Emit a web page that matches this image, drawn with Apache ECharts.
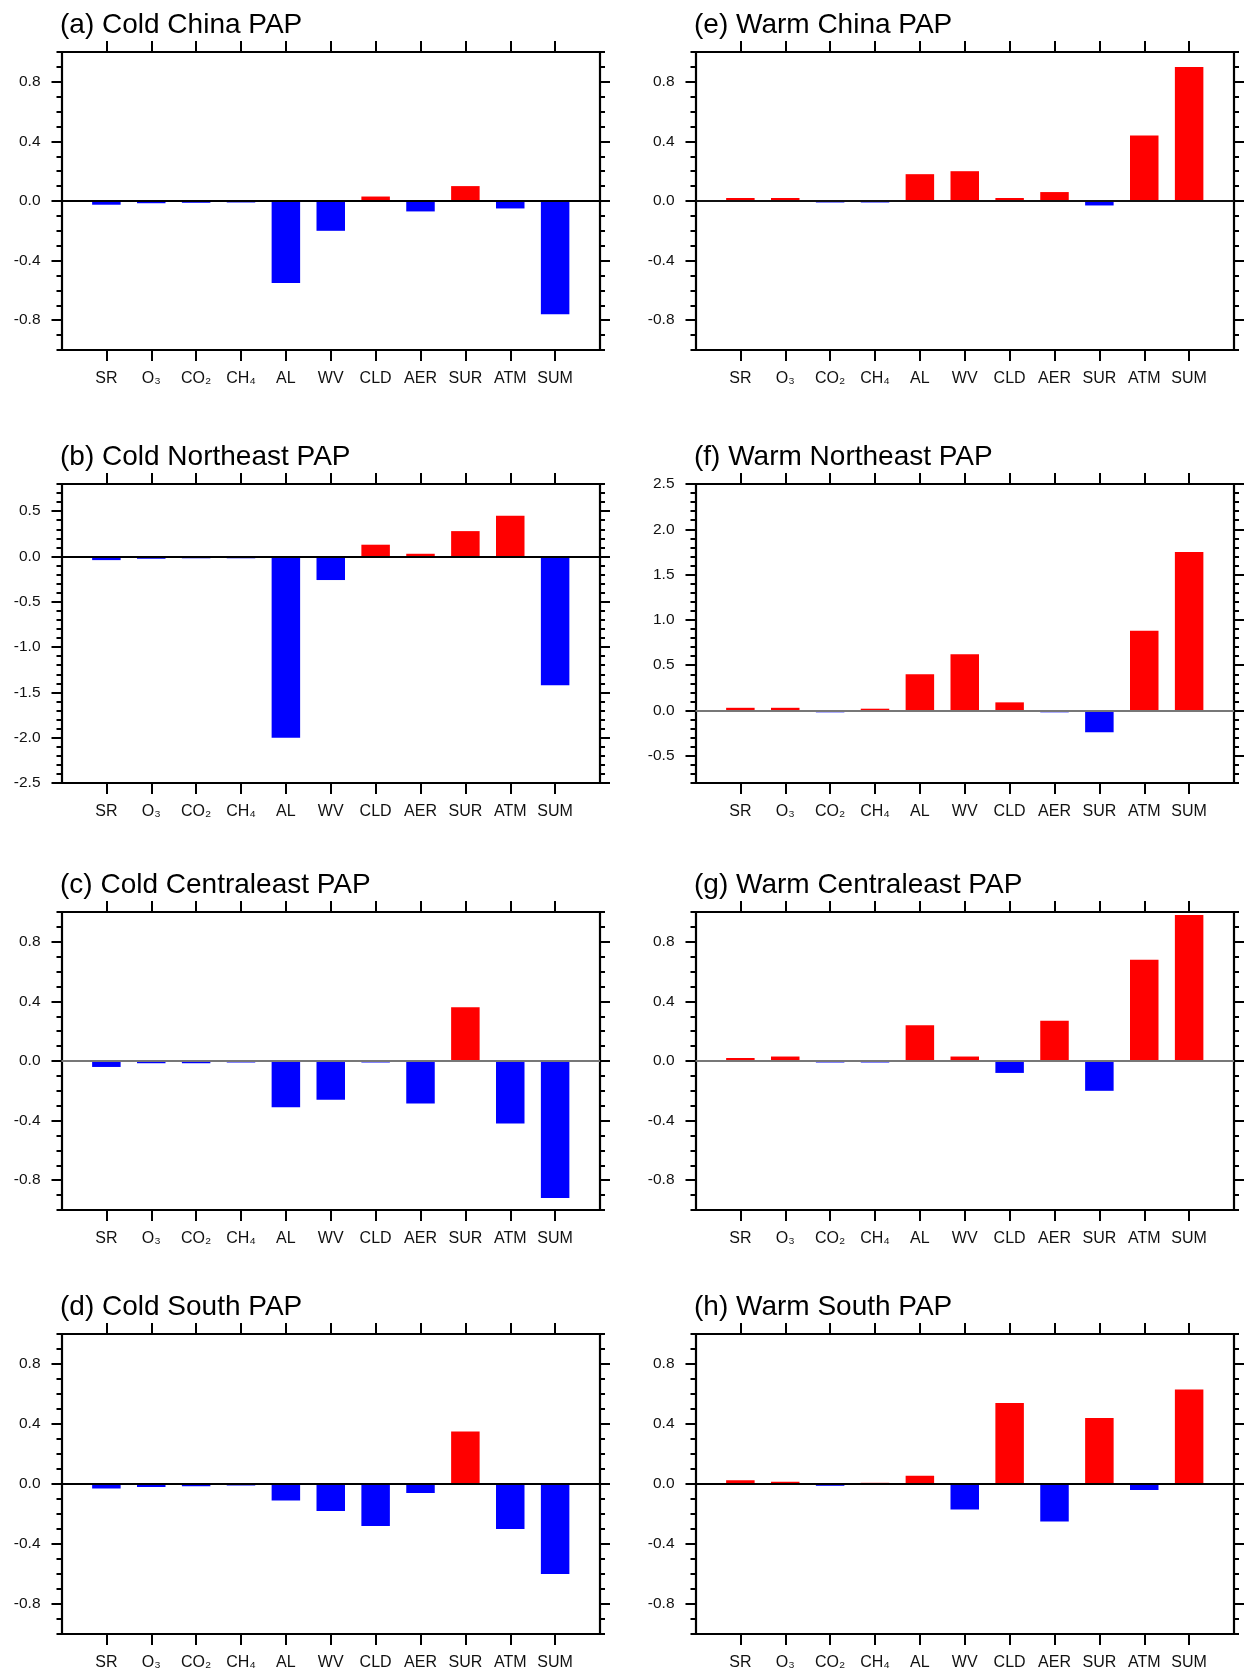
<!DOCTYPE html>
<html><head><meta charset="utf-8">
<script src="https://cdn.jsdelivr.net/npm/echarts@6/dist/echarts.min.js"></script>
<style>html,body{margin:0;padding:0;background:#fff}#c{width:1246px;height:1672px}</style>
</head><body><div id="c"></div>
<script>
// ---- data ----
const categories = ['SR','O₃','CO₂','CH₄','AL','WV','CLD','AER','SUR','ATM','SUM'];
const titles = ['(a) Cold China PAP','(b) Cold Northeast PAP','(c) Cold Centraleast PAP','(d) Cold South PAP',
                '(e) Warm China PAP','(f) Warm Northeast PAP','(g) Warm Centraleast PAP','(h) Warm South PAP'];
const coldChina       = [-0.025,-0.015,-0.012,-0.01,-0.55,-0.2,0.03,-0.07,0.1,-0.05,-0.76];
const coldNortheast   = [-0.04,-0.025,-0.02,-0.02,-2.0,-0.26,0.13,0.03,0.28,0.45,-1.42];
const coldCentraleast = [-0.04,-0.015,-0.015,-0.01,-0.31,-0.26,-0.01,-0.285,0.36,-0.42,-0.92];
const coldSouth       = [-0.03,-0.02,-0.015,-0.01,-0.11,-0.18,-0.28,-0.06,0.35,-0.3,-0.6];
const warmChina       = [0.02,0.02,-0.01,-0.01,0.18,0.2,0.02,0.06,-0.03,0.44,0.9];
const warmNortheast   = [0.03,0.03,-0.02,0.02,0.4,0.62,0.09,-0.02,-0.24,0.88,1.75];
const warmCentraleast = [0.02,0.03,-0.01,-0.01,0.24,0.03,-0.08,0.27,-0.2,0.68,0.98];
const warmSouth       = [0.025,0.015,-0.012,0.008,0.055,-0.17,0.54,-0.25,0.44,-0.04,0.63];
const ticksStd = [-0.8,-0.4,0.0,0.4,0.8];
const ticksColdNE = [-2.5,-2.0,-1.5,-1.0,-0.5,0.0,0.5];
const ticksWarmNE = [-0.5,0.0,0.5,1.0,1.5,2.0,2.5];
const rangeStd = [-1,1];
const rangeColdNE = [-2.5,0.8];
const rangeWarmNE = [-0.8,2.5];

const panels = [
  {title:titles[0], values:coldChina, ticks:ticksStd, range:rangeStd},
  {title:titles[1], values:coldNortheast, ticks:ticksColdNE, range:rangeColdNE},
  {title:titles[2], values:coldCentraleast, ticks:ticksStd, range:rangeStd},
  {title:titles[3], values:coldSouth, ticks:ticksStd, range:rangeStd},
  {title:titles[4], values:warmChina, ticks:ticksStd, range:rangeStd},
  {title:titles[5], values:warmNortheast, ticks:ticksWarmNE, range:rangeWarmNE},
  {title:titles[6], values:warmCentraleast, ticks:ticksStd, range:rangeStd},
  {title:titles[7], values:warmSouth, ticks:ticksStd, range:rangeStd}
];
// ---- layout / style ----
const FONT = '"Liberation Sans", Arial, Helvetica, sans-serif';
const colLeft = [61.5, 695.5];
const rowTop = [52, 484, 912, 1334];
const rowH = [298, 299, 298, 300];
const W = 538.5;
const zeroColors = ['#000','#000','#777','#000','#111','#777','#777','#000'];

const chart = echarts.init(document.getElementById('c'), null, {renderer:'canvas'});
const option = {animation:false, backgroundColor:'#fff', title:[], grid:[], xAxis:[], yAxis:[], series:[]};
const catPos = categories.map((c,k)=>k+1);

panels.forEach((p,i)=>{
  const col = Math.floor(i/4), row = i%4;
  const left = colLeft[col], top = rowTop[row], h = rowH[row];
  const g = i*2;
  option.title.push({text:p.title, left:left-1.5, top:top-41, padding:0,
    textStyle:{fontFamily:FONT, fontSize:28, fontWeight:'normal', color:'#000'}});
  option.grid.push({left:left, top:top, width:W, height:h, containLabel:false});
  option.grid.push({left:left, top:top, width:W, height:h, containLabel:false});
  const xBase = {type:'value', min:0, max:categories.length+1, gridIndex:g,
    splitLine:{show:false},
    axisLine:{show:true, onZero:false, lineStyle:{color:'#000', width:2.2}},
    axisTick:{show:true, customValues:catPos, length:11, lineStyle:{color:'#000', width:2}}};
  option.xAxis.push(Object.assign({}, xBase, {position:'bottom',
    axisLabel:{show:true, customValues:catPos, formatter:(v)=>categories[Math.round(v)-1]||'',
      margin:21, fontSize:16, color:'#111', fontFamily:FONT}}));
  option.xAxis.push(Object.assign({}, xBase, {position:'top', axisLabel:{show:false}}));
  option.xAxis.push({type:'value', gridIndex:g+1, min:0, max:categories.length+1, show:false});

  const minor = [];
  for (let v = Math.round(p.range[0]*10); v <= Math.round(p.range[1]*10); v++) minor.push(v/10);
  const yMajor = {type:'value', gridIndex:g, min:p.range[0], max:p.range[1],
    splitLine:{show:false},
    axisLine:{show:true, onZero:false, lineStyle:{color:'#000', width:2.2}},
    axisTick:{show:true, customValues:p.ticks, length:10, lineStyle:{color:'#000', width:2}}};
  option.yAxis.push(Object.assign({}, yMajor, {position:'left',
    axisLabel:{show:true, customValues:p.ticks, formatter:(v)=>v.toFixed(1), margin:21,
      fontSize:15.5, color:'#111', fontFamily:FONT}}));
  option.yAxis.push(Object.assign({}, yMajor, {position:'right', axisLabel:{show:false}}));
  const yMinor = {type:'value', gridIndex:g+1, min:p.range[0], max:p.range[1],
    splitLine:{show:false}, axisLine:{show:false, onZero:false}, axisLabel:{show:false},
    axisTick:{show:true, customValues:minor, length:5, lineStyle:{color:'#000', width:2}}};
  option.yAxis.push(Object.assign({}, yMinor, {position:'left'}));
  option.yAxis.push(Object.assign({}, yMinor, {position:'right'}));

  option.series.push({type:'bar', xAxisIndex:i*3, yAxisIndex:i*4, barWidth:28.5,
    data:p.values.map((v,k)=>[k+1, v]),
    itemStyle:{color:(prm)=> prm.value[1] >= 0 ? '#ff0000' : '#0000ff'},
    markLine:{silent:true, symbol:['none','none'], label:{show:false},
      lineStyle:{color:zeroColors[i], width:1.8, type:'solid'}, data:[{yAxis:0}]}
  });
});
chart.setOption(option);
</script></body></html>
